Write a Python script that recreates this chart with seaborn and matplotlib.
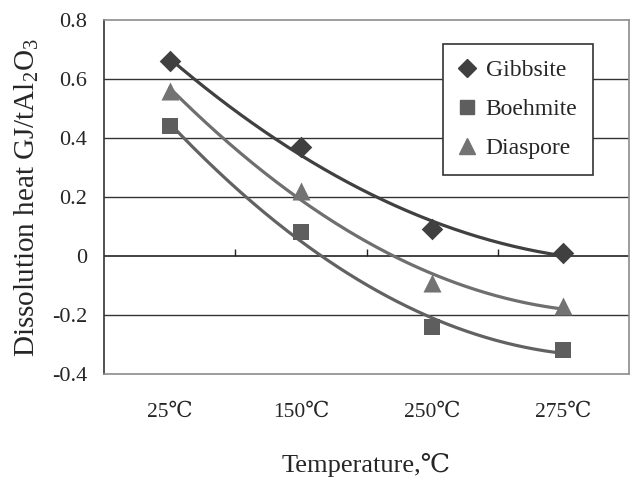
import numpy as np
import pandas as pd
import seaborn as sns
import matplotlib
matplotlib.use("Agg")
import matplotlib.pyplot as plt

categories = ["25℃", "150℃", "250℃", "275℃"]
gibbsite = [0.66, 0.37, 0.09, 0.01]
boehmite = [0.44, 0.08, -0.24, -0.32]
diaspore = [0.56, 0.22, -0.09, -0.17]
series_names = ["Gibbsite", "Boehmite", "Diaspore"]
y_ticks = [-0.4, -0.2, 0, 0.2, 0.4, 0.6, 0.8]
y_tick_labels = ["-0.4", "-0.2", "0", "0.2", "0.4", "0.6", "0.8"]

sns.set_style("white")
plt.rcParams["font.family"] = ["Liberation Serif", "DejaVu Serif", "DejaVu Sans"]
plt.rcParams["mathtext.fontset"] = "custom"
plt.rcParams["mathtext.rm"] = "Liberation Serif"

idx = np.arange(1, len(categories) + 1)
values = {"Gibbsite": gibbsite, "Boehmite": boehmite, "Diaspore": diaspore}
df = pd.DataFrame({
    "x": np.tile(idx, 3),
    "value": gibbsite + boehmite + diaspore,
    "mineral": np.repeat(series_names, len(categories)),
})

marker_col = {"Gibbsite": "#404040", "Boehmite": "#5e5e5e", "Diaspore": "#737373"}
line_col = {"Gibbsite": "#404040", "Boehmite": "#626262", "Diaspore": "#6f6f6f"}
markers = {"Gibbsite": "D", "Boehmite": "s", "Diaspore": "^"}
msize = {"Gibbsite": 11, "Boehmite": 11.5, "Diaspore": 13}

fig = plt.figure(figsize=(6.32, 4.88), dpi=100)
ax = fig.add_axes([104 / 632, 1 - 374 / 488, 525 / 632, 354 / 488])

# horizontal gridlines
for yv in y_ticks[1:-1]:
    if yv != 0:
        ax.axhline(yv, color="#333333", lw=1.0, zorder=1)
ax.axhline(0, color="#222222", lw=1.2, zorder=1)
bounds = idx[:-1] + 0.5
ax.vlines(bounds, 0, 0.024, color="#222222", lw=1.0, zorder=1)

# polynomial trendlines (order 2), as in the source chart
xs = np.linspace(idx[0], idx[-1], 200)
for name in series_names:
    coef = np.polyfit(idx, values[name], 2)
    ax.plot(xs, np.polyval(coef, xs), color=line_col[name], lw=2.3, zorder=2,
            solid_capstyle="round")

for name in series_names:
    sub = df[df["mineral"] == name]
    sns.scatterplot(data=sub, x="x", y="value", marker=markers[name],
                    color=marker_col[name], s=msize[name] ** 2, linewidth=0,
                    ax=ax, zorder=3, label=name, legend=False)

ax.set_xlim(0.5, len(categories) + 0.5)
ax.set_ylim(-0.4, 0.8)
ax.set_xticks(idx)
ax.set_xticklabels(categories, fontsize=15.5)
ax.tick_params(axis="x", length=0, pad=21)
ax.set_yticks(y_ticks)
ax.set_yticklabels(y_tick_labels, fontsize=16)
ax.tick_params(axis="y", direction="in", length=7, width=1.0, color="#222222", pad=12)

for s in ["top", "right", "bottom"]:
    ax.spines[s].set_color("#8c8c8c")
    ax.spines[s].set_linewidth(1.2)
ax.spines["left"].set_color("#333333")
ax.spines["left"].set_linewidth(1.2)

ax.set_xlabel("Temperature,℃", fontsize=19, labelpad=22)
ax.set_ylabel(r"Dissolution heat GJ/tAl$_2$O$_3$", fontsize=21, labelpad=8)

handles = [plt.Line2D([], [], marker=markers[n], color=marker_col[n], linestyle="",
                      markersize=msize[n] * 0.85) for n in series_names]
leg = ax.legend(handles, series_names, loc="upper left",
                bbox_to_anchor=(0.646, 0.932), fontsize=17, frameon=True,
                fancybox=False, edgecolor="#333333", framealpha=1,
                handlelength=0.7, handletextpad=0.45, labelspacing=0.75,
                borderpad=0.65, borderaxespad=0)
leg.get_frame().set_linewidth(1.2)

fig.savefig("out.png", dpi=100)
